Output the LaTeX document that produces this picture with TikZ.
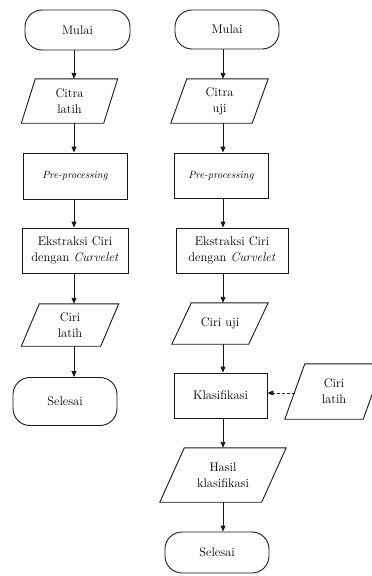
\documentclass[tikz,border=0pt]{standalone}
\usepackage{fontspec}
\usetikzlibrary{arrows.meta,calc}
\newcommand\ioshape[2]{%
  \draw[ln] ([xshift={0.5*#2}]#1.north west) -- ([xshift={0.5*#2}]#1.north east)
    -- ([xshift={-0.5*#2}]#1.south east) -- ([xshift={-0.5*#2}]#1.south west) -- cycle;}
\tikzset{
  ln/.style={draw=black!90, line width=0.9pt},
  txt/.style={font=\fontsize{12.5}{16}\selectfont, align=center, inner sep=0pt},
  term/.style={ln, txt, rounded corners=17pt},
  proc/.style={ln, txt},
  io/.style={txt},
  arr/.style={ln, -{Triangle[length=6pt,width=5pt]}},
  dsh/.style={dash pattern=on 3pt off 2pt}
}
\begin{document}
\begin{tikzpicture}[x=1pt,y=-1pt]
\clip (0,0) rectangle (372,576);
\fill[white] (0,0) rectangle (372,576);
% left column
\node[term, minimum width=105pt, minimum height=40pt] (m1) at (77.5,30) {Mulai};
\node[io, minimum width=82pt, minimum height=44pt] (c1) at (69.5,101) {Citra\\latih};
\ioshape{c1}{14}
\node[proc, minimum width=104pt, minimum height=46pt] (p1) at (75,176) {\fontsize{10.5}{13}\selectfont\itshape Pre-processing};
\node[proc, minimum width=106pt, minimum height=45pt] (e1) at (75,250.5) {Ekstraksi Ciri\\dengan \textit{Curvelet}};
\node[io, minimum width=79pt, minimum height=42pt] (l1) at (70,325) {Ciri\\latih};
\ioshape{l1}{18}
\node[term, minimum width=104pt, minimum height=48pt] (s1) at (65,401.5) {Selesai};
\coordinate (axL) at (74,0);
\draw[arr] (m1.south -| axL) -- (c1.north -| axL);
\draw[arr] (c1.south -| axL) -- (p1.north -| axL);
\draw[arr] (p1.south -| axL) -- (e1.north -| axL);
\draw[arr] (e1.south -| axL) -- (l1.north -| axL);
\draw[arr] (l1.south -| axL) -- (s1.north -| axL);
% right column
\node[term, minimum width=104pt, minimum height=39pt] (m2) at (227,29.5) {Mulai};
\node[io, minimum width=81pt, minimum height=44pt] (c2) at (219.5,101) {Citra\\uji};
\ioshape{c2}{16}
\node[proc, minimum width=94pt, minimum height=45pt] (p2) at (221,175.5) {\fontsize{10.5}{13}\selectfont\itshape Pre-processing};
\node[proc, minimum width=112pt, minimum height=45pt] (e2) at (232,250.5) {Ekstraksi Ciri\\dengan \textit{Curvelet}};
\node[io, minimum width=76.5pt, minimum height=41pt] (u2) at (220,323.5) {Ciri uji};
\ioshape{u2}{19.5}
\node[proc, minimum width=93pt, minimum height=45pt] (k2) at (220.5,395.5) {Klasifikasi};
\node[io, minimum width=78pt, minimum height=55pt] (l2) at (334,391.5) {Ciri\\latih};
\ioshape{l2}{20}
\node[io, minimum width=101.5pt, minimum height=54pt] (h2) at (223,475) {Hasil\\klasifikasi};
\ioshape{h2}{24.5}
\node[term, minimum width=104pt, minimum height=41pt] (s2) at (217,552.5) {Selesai};
\coordinate (axR) at (223,0);
\coordinate (l2w) at (294.5,393);
\draw[arr] (m2.south -| axR) -- (c2.north -| axR);
\draw[arr] (c2.south -| axR) -- (p2.north -| axR);
\draw[arr] (p2.south -| axR) -- (e2.north -| axR);
\draw[arr] (e2.south -| axR) -- (u2.north -| axR);
\draw[arr] (u2.south -| axR) -- (k2.north -| axR);
\draw[arr] (k2.south -| axR) -- (h2.north -| axR);
\draw[arr] (h2.south -| axR) -- (s2.north -| axR);
\draw[arr, dsh] (l2w) -- (k2.east |- l2w);
\end{tikzpicture}
\end{document}
